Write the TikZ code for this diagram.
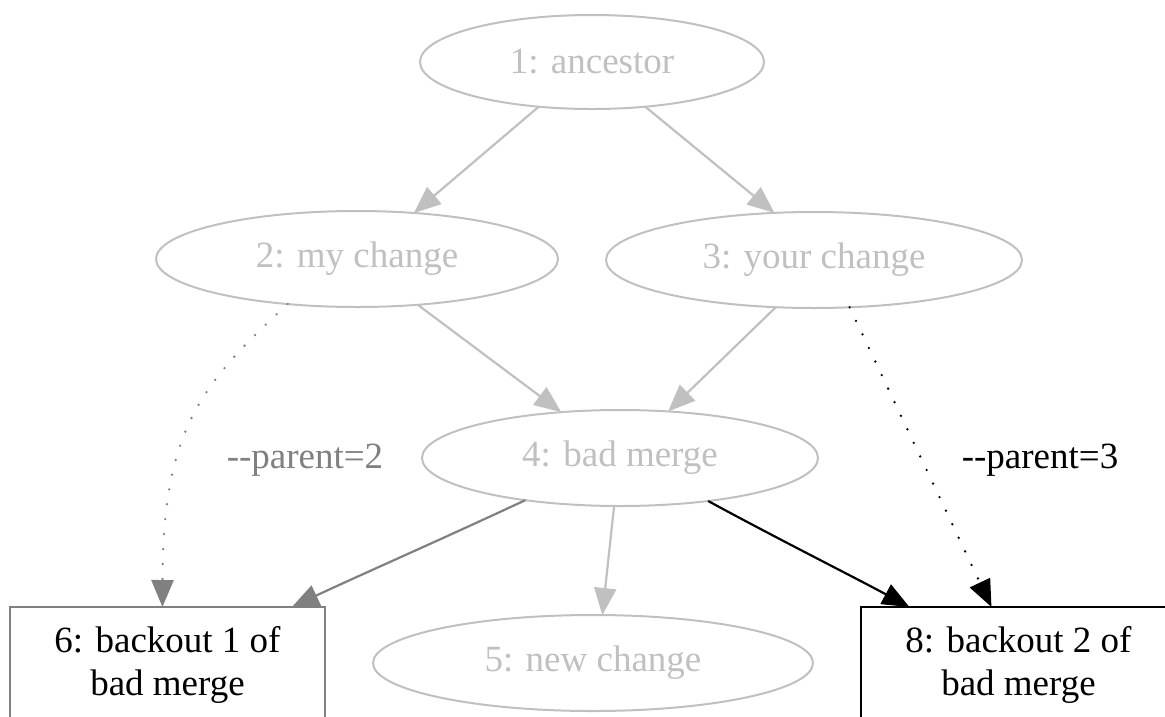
\documentclass[tikz,border=0pt]{standalone}
\usepackage{fontspec}
\setmainfont{Liberation Serif}
\usetikzlibrary{shapes.geometric,arrows.meta}
\definecolor{lightg}{RGB}{192,192,192}
\definecolor{midg}{RGB}{128,128,128}
\begin{document}
\begin{tikzpicture}[x=1pt,y=-1pt,
  every node/.style={font=\fontsize{37}{43}\selectfont, inner sep=0pt, outer sep=0pt},
  ell/.style={ellipse, draw=lightg, line width=2pt, text=lightg, minimum height=96pt},
  boxnode/.style={rectangle, draw, line width=2pt, minimum width=315pt, minimum height=116pt, align=center, text=black},
  conn/.style={line width=2.2pt, -{Triangle[length=27pt,width=22pt]}},
  dotline/.style={line width=2.6pt, line cap=round, dash pattern=on 0pt off 15pt, -{Triangle[length=27pt,width=22pt]}}
]
\useasboundingbox (0,0) rectangle (1165,716);
\node[ell, minimum width=344pt, minimum height=94pt] (n1) at (592,62) {1: ancestor};
\node[ell, minimum width=402pt] (n2) at (357,259) {2: my change};
\node[ell, minimum width=416pt] (n3) at (814,260) {3: your change};
\node[ell, minimum width=396pt] (n4) at (620,458) {4: bad merge};
\node[ell, minimum width=440pt] (n5) at (593,663) {5: new change};
\node[boxnode, draw=midg] (b6) at (167.5,665) {6: backout 1 of\\bad merge};
\node[boxnode, draw=black] (b8) at (1018.5,665) {8: backout 2 of\\bad merge};

\draw[conn, lightg] (n1.-140) -- (n2.39);
\draw[conn, lightg] (n1.-40) -- (n3.130);
\draw[conn, lightg] (n2.-37) -- (n4.142);
\draw[conn, lightg] (n3.-129) -- (n4.44);
\draw[conn, lightg] (n4.-97) -- (n5.79);
\draw[conn, midg] (n4.-156) .. controls (440,540) and (360,575) .. (b6.25.4);
\draw[conn, black] (n4.-26) .. controls (780,540) and (850,575) .. (b8.152.4);
\draw[dotline, midg] (n2.-147) .. controls (200,385) and (163,430) .. (b6.95);
\draw[dotline, black] (n3.-53) -- (b8.115);

\node[text=midg] (l2) at (305,460) {-{}-parent=2};
\node[text=black] (l3) at (1040,460) {-{}-parent=3};
\end{tikzpicture}
\end{document}
